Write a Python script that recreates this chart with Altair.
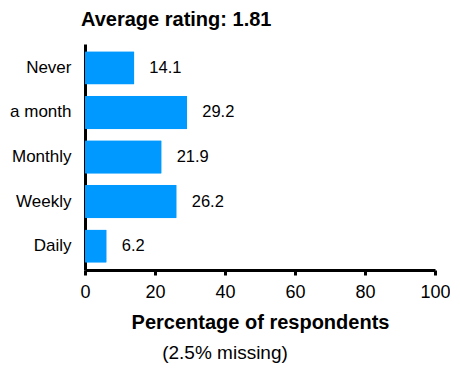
import altair as alt
import pandas as pd

categories = ["Never", "Less than once a month", "Monthly", "Weekly", "Daily"]
percentages = [14.1, 29.2, 21.9, 26.2, 6.2]
x_ticks = [0, 20, 40, 60, 80, 100]
title_text = "Average rating: 1.81"
x_title = "Percentage of respondents"
missing_note = ["(2.5% missing)"]

FONT = "Liberation Sans"

df = pd.DataFrame({"category": categories, "pct": percentages})

base = alt.Chart(df).encode(
    y=alt.Y(
        "category:N",
        sort=categories,
        scale=alt.Scale(paddingInner=0.25, paddingOuter=0.16),
        axis=alt.Axis(
            title=None, ticks=False, domainColor="black", domainWidth=3,
            labelFont=FONT, labelFontSize=17, labelColor="black",
            labelPadding=14, labelLimit=0,
        ),
    ),
    x=alt.X(
        "pct:Q",
        scale=alt.Scale(domain=[0, 100]),
        axis=alt.Axis(
            values=x_ticks, title=x_title, grid=False, labelFlush=False,
            domainColor="black", domainWidth=3,
            tickColor="black", tickWidth=3, tickSize=5,
            labelFont=FONT, labelFontSize=18, labelColor="black", labelPadding=8,
            titleFont=FONT, titleFontSize=20, titleFontWeight="bold",
            titleColor="black", titlePadding=11,
        ),
    ),
)

bars = base.mark_bar(color="#0099ff", cornerRadius=1)
labels = base.mark_text(
    align="left", baseline="middle", dx=15, font=FONT, fontSize=16.5, color="black"
).encode(text=alt.Text("pct:Q", format=".1f"))

note = alt.Chart(pd.DataFrame({"t": missing_note})).mark_text(
    align="center", baseline="alphabetic", font=FONT, fontSize=19, color="black"
).encode(text="t:N", x=alt.value(140), y=alt.value(315))

chart = (
    alt.layer(bars, labels, note)
    .properties(
        width=350,
        height=226,
        autosize=alt.AutoSizeParams(type="none"),
        padding={"left": 77, "top": 36, "right": 15, "bottom": 94},
        title=alt.TitleParams(
            text=title_text, anchor="start", frame="group", dx=-4, offset=14,
            font=FONT, fontSize=20, fontWeight="bold", color="black",
        ),
    )
    .configure_view(stroke=None)
)

chart.save("out.html", embed_options={"renderer": "svg", "actions": False})
